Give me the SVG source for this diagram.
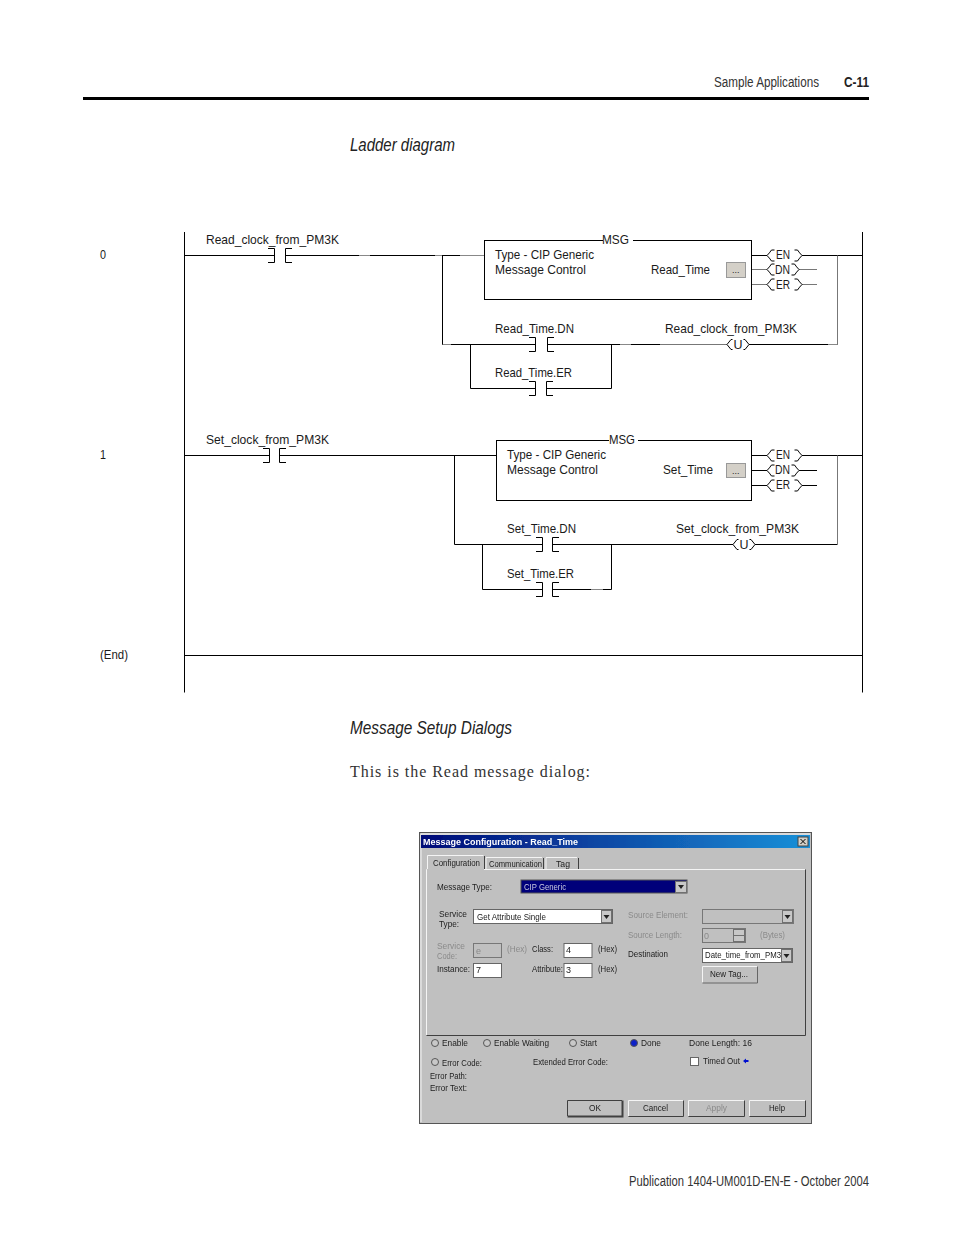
<svg xmlns="http://www.w3.org/2000/svg" width="954" height="1235" viewBox="0 0 954 1235">
<style>
text{font-family:"Liberation Sans",Arial,sans-serif;fill:#1a1a1a}
.w{fill:none;stroke:#000;stroke-width:1}
.g{fill:none;stroke:#888;stroke-width:1}
.m{fill:none;stroke:#777;stroke-width:1}
.box{fill:#fff;stroke:#000;stroke-width:1}
.lad{font-size:13.500px}
.hd{font-size:14px;fill:#333}
.it{font-size:19px;font-style:italic;fill:#222}
.d{font-size:9px;fill:#222}
.dg{font-size:9px;fill:#8a8a8a}
.btn{fill:#c8c8c8;stroke:#707070;stroke-width:1}
.field{fill:#fff;stroke:#666;stroke-width:1}
.dis{fill:#c0c0c0;stroke:#777;stroke-width:1}
.hl{fill:none;stroke:#f4f4f4;stroke-width:1}
.sh{fill:none;stroke:#404040;stroke-width:1}
.rad{fill:#c8c8c8;stroke:#555;stroke-width:1}
</style>
<defs>
<linearGradient id="tb" x1="0" x2="1" y1="0" y2="0"><stop offset="0" stop-color="#000a78"/><stop offset="1" stop-color="#1a90d8"/></linearGradient>
<filter id="soft" x="0" y="0" width="1" height="1"><feGaussianBlur stdDeviation="0.35"/></filter>
<path id="cl" class="w" d="M-6.500 -7H0V7H-6.500"/>
<path id="cr" class="w" d="M6.500 -7H0V7H6.500"/>
<path id="pl" class="w" d="M7.500 -5.500H4.500Q2.500 -2.500 0 0Q2.500 2.500 4.500 5.500H7.500"/>
<path id="pr" class="w" d="M-7.500 -5.500H-4.500Q-2.500 -2.500 0 0Q-2.500 2.500 -4.500 5.500H-7.500"/>
<path id="kl" class="w" d="M5.500 -5H4Q2 -2.500 0 0Q2 2.500 4 5H5.500"/>
<path id="kr" class="w" d="M-5.500 -5H-4Q-2 -2.500 0 0Q-2 2.500 -4 5H-5.500"/>
<path id="arr" fill="#222" d="M-3 -2H3L0 2Z"/>
</defs>

<g id="page-header">
<text class="hd" x="714" y="87" textLength="105" lengthAdjust="spacingAndGlyphs">Sample Applications</text>
<text class="hd" x="844" y="87" font-weight="bold" textLength="25" lengthAdjust="spacingAndGlyphs" style="fill:#222">C-11</text>
<rect x="83" y="97" width="786" height="3" fill="#000"/>
</g>
<text id="h-ladder" class="it" x="350" y="151" textLength="105" lengthAdjust="spacingAndGlyphs">Ladder diagram</text>

<g id="connectors">
<path class="w" d="M184.500 232V692.500M862.500 232V692.500"/>
<path class="w" d="M184.500 255.500H274.500M285.500 255.500H484.500M442.500 255.500V344.500M470.500 344.500V388.500M442.500 344.500H535.500M547.500 344.500H727M749 344.500H837.500M470.500 388.500H535.500M546.500 388.500H611.500V344.500"/>
<path class="w" d="M752 255.500H767M752 269.500H767M752 284.500H767M802 255.500H862M799 269.500H817M802 284.500H817"/>
<path class="g" d="M359 255.500H370M435 255.500H442M460 255.500H484M443 344.500H451M620 344.500H631M828 344.500H837.500"/>
<path class="m" d="M837.500 255.500V344.500M660 344.500H727M752 269.500H767M799 269.500H817M752 284.500H767M802 284.500H817"/>
<path class="w" d="M184.500 455.500H269.500M279.500 455.500H496.500M454.500 455.500V544.500M482.500 544.500V589.500M454.500 544.500H542.500M552.500 544.500H733M755 544.500H837.500M482.500 589.500H542.500M552.500 589.500H611.500V544.500"/>
<path class="w" d="M752 455.500H767M752 470.500H767M752 485.500H767M802 455.500H862M799 470.500H817M802 485.500H817"/>
<path class="m" d="M837.500 455.500V544.500"/>
<path class="g" d="M591 589.500H603"/>
<path class="w" d="M184.500 655.500H862.500"/>
</g>

<g id="rail-labels">
<text class="lad" x="100" y="259" textLength="6" lengthAdjust="spacingAndGlyphs">0</text>
<text class="lad" x="100" y="459" textLength="6" lengthAdjust="spacingAndGlyphs">1</text>
<text class="lad" x="100" y="659" textLength="28" lengthAdjust="spacingAndGlyphs">(End)</text>
</g>

<g id="contact-read-clock">
<text class="lad" x="206" y="244" textLength="133" lengthAdjust="spacingAndGlyphs">Read_clock_from_PM3K</text>
<use href="#cl" x="274.500" y="255.500"/><use href="#cr" x="285.500" y="255.500"/>
</g>
<g id="msg-read">
<rect class="box" x="484.500" y="240.500" width="267" height="59"/>
<rect x="603" y="236" width="30" height="8" fill="#fff"/>
<text class="lad" x="602" y="244" textLength="27" lengthAdjust="spacingAndGlyphs">MSG</text>
<text class="lad" x="495" y="259" textLength="99" lengthAdjust="spacingAndGlyphs">Type - CIP Generic</text>
<text class="lad" x="495" y="274" textLength="91" lengthAdjust="spacingAndGlyphs">Message Control</text>
<text class="lad" x="651" y="274" textLength="59" lengthAdjust="spacingAndGlyphs">Read_Time</text>
<rect x="726.500" y="262.500" width="19" height="15" fill="#d4d0c8" stroke="#999"/>
<text x="732" y="273" font-size="9">...</text>
</g>
<g id="out-read">
<use href="#pl" x="767" y="255.500"/><use href="#pr" x="802" y="255.500"/><text class="lad" x="776" y="259" textLength="14" lengthAdjust="spacingAndGlyphs">EN</text>
<use href="#pl" x="767" y="269.500"/><use href="#pr" x="799" y="269.500"/><text class="lad" x="775" y="274" textLength="15" lengthAdjust="spacingAndGlyphs">DN</text>
<use href="#pl" x="767" y="284.500"/><use href="#pr" x="802" y="284.500"/><text class="lad" x="776" y="289" textLength="14" lengthAdjust="spacingAndGlyphs">ER</text>
</g>
<g id="contact-read-dn">
<text class="lad" x="495" y="333" textLength="79" lengthAdjust="spacingAndGlyphs">Read_Time.DN</text>
<use href="#cl" x="535.500" y="344.500"/><use href="#cr" x="547.500" y="344.500"/>
</g>
<g id="contact-read-er">
<text class="lad" x="495" y="377" textLength="77" lengthAdjust="spacingAndGlyphs">Read_Time.ER</text>
<use href="#cl" x="535.500" y="388.500"/><use href="#cr" x="546.500" y="388.500"/>
</g>
<g id="coil-read">
<text class="lad" x="665" y="333" textLength="132" lengthAdjust="spacingAndGlyphs">Read_clock_from_PM3K</text>
<use href="#kl" x="727" y="344.500"/><use href="#kr" x="749" y="344.500"/>
<text class="lad" x="733.500" y="349" textLength="9" lengthAdjust="spacingAndGlyphs">U</text>
</g>

<g id="contact-set-clock">
<text class="lad" x="206" y="444" textLength="123" lengthAdjust="spacingAndGlyphs">Set_clock_from_PM3K</text>
<use href="#cl" x="269.500" y="455.500"/><use href="#cr" x="279.500" y="455.500"/>
</g>
<g id="msg-set">
<rect class="box" x="496.500" y="440.500" width="255" height="60"/>
<rect x="609" y="436" width="29" height="8" fill="#fff"/>
<text class="lad" x="609" y="444" textLength="26" lengthAdjust="spacingAndGlyphs">MSG</text>
<text class="lad" x="507" y="459" textLength="99" lengthAdjust="spacingAndGlyphs">Type - CIP Generic</text>
<text class="lad" x="507" y="474" textLength="91" lengthAdjust="spacingAndGlyphs">Message Control</text>
<text class="lad" x="663" y="474" textLength="50" lengthAdjust="spacingAndGlyphs">Set_Time</text>
<rect x="726.500" y="463.500" width="19" height="14" fill="#d4d0c8" stroke="#999"/>
<text x="732" y="474" font-size="9">...</text>
</g>
<g id="out-set">
<use href="#pl" x="767" y="455.500"/><use href="#pr" x="802" y="455.500"/><text class="lad" x="776" y="459" textLength="14" lengthAdjust="spacingAndGlyphs">EN</text>
<use href="#pl" x="767" y="470.500"/><use href="#pr" x="799" y="470.500"/><text class="lad" x="775" y="474" textLength="15" lengthAdjust="spacingAndGlyphs">DN</text>
<use href="#pl" x="767" y="485.500"/><use href="#pr" x="802" y="485.500"/><text class="lad" x="776" y="489" textLength="14" lengthAdjust="spacingAndGlyphs">ER</text>
</g>
<g id="contact-set-dn">
<text class="lad" x="507" y="533" textLength="69" lengthAdjust="spacingAndGlyphs">Set_Time.DN</text>
<use href="#cl" x="542.500" y="544.500"/><use href="#cr" x="552.500" y="544.500"/>
</g>
<g id="contact-set-er">
<text class="lad" x="507" y="578" textLength="67" lengthAdjust="spacingAndGlyphs">Set_Time.ER</text>
<use href="#cl" x="542.500" y="589.500"/><use href="#cr" x="552.500" y="589.500"/>
</g>
<g id="coil-set">
<text class="lad" x="676" y="533" textLength="123" lengthAdjust="spacingAndGlyphs">Set_clock_from_PM3K</text>
<use href="#kl" x="733" y="544.500"/><use href="#kr" x="755" y="544.500"/>
<text class="lad" x="739.500" y="549" textLength="9" lengthAdjust="spacingAndGlyphs">U</text>
</g>

<text id="h-dialogs" class="it" x="350" y="734" textLength="162" lengthAdjust="spacingAndGlyphs">Message Setup Dialogs</text>
<text id="intro" x="350" y="777" font-size="16" textLength="240" lengthAdjust="spacing" style="font-family:'Liberation Serif',serif;fill:#333">This is the Read message dialog:</text>

<g id="dialog" filter="url(#soft)">
<rect x="419.500" y="832.500" width="392" height="291" fill="#c0c0c0" stroke="#555"/>
<path class="hl" d="M421 1122V834H810"/>
<rect x="421" y="835" width="389" height="13" fill="url(#tb)"/>
<text x="423" y="845" font-size="9" font-weight="bold" textLength="155" lengthAdjust="spacingAndGlyphs" style="fill:#fff">Message Configuration - Read_Time</text>
<rect x="798" y="837" width="10" height="9" fill="#d4d0c8" stroke="#444"/>
<path d="M800.500 839L805.500 844M805.500 839L800.500 844" stroke="#000" fill="none"/>

<path class="hl" d="M426.500 1035V869.500H427M484 869.500H805"/>
<path class="sh" d="M426.500 1035.500H805.500V869.500"/>
<path class="hl" d="M427.500 869V855.500H483.500"/><path class="sh" d="M484.500 856V869"/>
<path class="hl" d="M486 869V857.500H542"/><path class="sh" d="M543.500 858V869"/>
<path class="hl" d="M546 869V857.500H577"/><path class="sh" d="M578.500 858V869"/>
<text class="d" x="433" y="866" textLength="47" lengthAdjust="spacingAndGlyphs">Configuration</text>
<text class="d" x="489" y="867" textLength="53" lengthAdjust="spacingAndGlyphs">Communication</text>
<text class="d" x="556" y="867" textLength="14" lengthAdjust="spacingAndGlyphs">Tag</text>

<text class="d" x="437" y="890" textLength="55" lengthAdjust="spacingAndGlyphs">Message Type:</text>
<rect x="521" y="880" width="166" height="13" fill="#00007a" stroke="#555"/>
<text class="d" x="524" y="890" textLength="42" lengthAdjust="spacingAndGlyphs" style="fill:#c8c8e0">CIP Generic</text>
<rect class="btn" x="675.500" y="881.500" width="11" height="11"/><use href="#arr" x="681" y="887"/>

<text class="d" x="439" y="917" textLength="28" lengthAdjust="spacingAndGlyphs">Service</text>
<text class="d" x="439" y="927" textLength="20" lengthAdjust="spacingAndGlyphs">Type:</text>
<rect class="field" x="473.500" y="909.500" width="139" height="14"/>
<text class="d" x="477" y="920" textLength="69" lengthAdjust="spacingAndGlyphs">Get Attribute Single</text>
<rect class="btn" x="601.500" y="910.500" width="10" height="12"/><use href="#arr" x="606.500" y="917"/>

<text class="dg" x="437" y="949" textLength="28" lengthAdjust="spacingAndGlyphs">Service</text>
<text class="dg" x="437" y="959" textLength="20" lengthAdjust="spacingAndGlyphs">Code:</text>
<rect class="dis" x="473.500" y="943.500" width="28" height="14"/>
<text class="dg" x="476" y="954">e</text>
<text class="dg" x="507" y="952" textLength="20" lengthAdjust="spacingAndGlyphs">(Hex)</text>
<text class="d" x="532" y="952" textLength="21" lengthAdjust="spacingAndGlyphs">Class:</text>
<rect class="field" x="564" y="943.500" width="28" height="14"/>
<text class="d" x="566" y="953">4</text>
<text class="d" x="598" y="952" textLength="19" lengthAdjust="spacingAndGlyphs">(Hex)</text>
<text class="d" x="437" y="972" textLength="33" lengthAdjust="spacingAndGlyphs">Instance:</text>
<rect class="field" x="473.500" y="963.500" width="28" height="14"/>
<text class="d" x="476" y="973">7</text>
<text class="d" x="532" y="972" textLength="31" lengthAdjust="spacingAndGlyphs">Attribute:</text>
<rect class="field" x="564" y="963.500" width="28" height="14"/>
<text class="d" x="566" y="973">3</text>
<text class="d" x="598" y="972" textLength="19" lengthAdjust="spacingAndGlyphs">(Hex)</text>

<text class="dg" x="628" y="918" textLength="60" lengthAdjust="spacingAndGlyphs">Source Element:</text>
<rect class="dis" x="702.500" y="909.500" width="91" height="14"/>
<rect class="btn" x="782.500" y="910.500" width="10" height="12"/><use href="#arr" x="787.500" y="917"/>
<text class="dg" x="628" y="938" textLength="54" lengthAdjust="spacingAndGlyphs">Source Length:</text>
<rect class="dis" x="702.500" y="928.500" width="43" height="14"/>
<text class="dg" x="704" y="939">0</text>
<rect class="btn" x="733.500" y="929.500" width="11" height="6"/><rect class="btn" x="733.500" y="935.500" width="11" height="6"/>
<text class="dg" x="760" y="938" textLength="25" lengthAdjust="spacingAndGlyphs">(Bytes)</text>
<text class="d" x="628" y="957" textLength="40" lengthAdjust="spacingAndGlyphs">Destination</text>
<rect class="field" x="702.500" y="948.500" width="90" height="14"/>
<text class="d" x="705" y="958" textLength="76" lengthAdjust="spacingAndGlyphs">Date_time_from_PM3</text>
<rect class="btn" x="781.500" y="949.500" width="10" height="12"/><use href="#arr" x="786.500" y="956"/>
<path class="hl" d="M702.500 982.500V966.500H757.500"/><path class="sh" d="M702.500 983H757.500V966.500" style="stroke:#666"/>
<text class="d" x="710" y="977" textLength="38" lengthAdjust="spacingAndGlyphs">New Tag...</text>

<circle class="rad" cx="435" cy="1043" r="3.500"/><text class="d" x="442" y="1046" textLength="26" lengthAdjust="spacingAndGlyphs">Enable</text>
<circle class="rad" cx="487" cy="1043" r="3.500"/><text class="d" x="494" y="1046" textLength="55" lengthAdjust="spacingAndGlyphs">Enable Waiting</text>
<circle class="rad" cx="573" cy="1043" r="3.500"/><text class="d" x="580" y="1046" textLength="17" lengthAdjust="spacingAndGlyphs">Start</text>
<circle cx="634" cy="1043" r="3.500" fill="#1020c8" stroke="#555"/><text class="d" x="641" y="1046" textLength="20" lengthAdjust="spacingAndGlyphs">Done</text>
<text class="d" x="689" y="1046" textLength="63" lengthAdjust="spacingAndGlyphs">Done Length:  16</text>
<circle class="rad" cx="435" cy="1062" r="3.500"/><text class="d" x="442" y="1066" textLength="40" lengthAdjust="spacingAndGlyphs">Error Code:</text>
<text class="d" x="533" y="1065" textLength="75" lengthAdjust="spacingAndGlyphs">Extended Error Code:</text>
<rect class="field" x="690.500" y="1057.500" width="8" height="8"/>
<text class="d" x="703" y="1064" textLength="37" lengthAdjust="spacingAndGlyphs">Timed Out</text>
<path d="M743 1061L746 1058.500V1060H748.500V1062H746V1063.500Z" fill="#0010d0"/>
<text class="d" x="430" y="1079" textLength="37" lengthAdjust="spacingAndGlyphs">Error Path:</text>
<text class="d" x="430" y="1091" textLength="37" lengthAdjust="spacingAndGlyphs">Error Text:</text>
<path class="sh" d="M567.500 1116.500H622.500V1100.500" style="stroke-width:2"/><path class="sh" d="M567.500 1116V1100.500H622"/>
<text class="d" x="589" y="1111" textLength="12" lengthAdjust="spacingAndGlyphs">OK</text>
<path class="hl" d="M628.500 1116V1100.500H683.500"/><path class="sh" d="M628.500 1116.500H683.500V1100.500"/>
<text class="d" x="643" y="1111" textLength="25" lengthAdjust="spacingAndGlyphs">Cancel</text>
<path class="hl" d="M688.500 1116V1100.500H744.500"/><path class="sh" d="M688.500 1116.500H744.500V1100.500"/>
<text class="dg" x="706" y="1111" textLength="21" lengthAdjust="spacingAndGlyphs">Apply</text>
<path class="hl" d="M749.500 1116V1100.500H805.500"/><path class="sh" d="M749.500 1116.500H805.500V1100.500"/>
<text class="d" x="769" y="1111" textLength="16" lengthAdjust="spacingAndGlyphs">Help</text>
</g>

<text id="footer" class="hd" x="629" y="1186" textLength="240" lengthAdjust="spacingAndGlyphs">Publication 1404-UM001D-EN-E - October 2004</text>
</svg>
